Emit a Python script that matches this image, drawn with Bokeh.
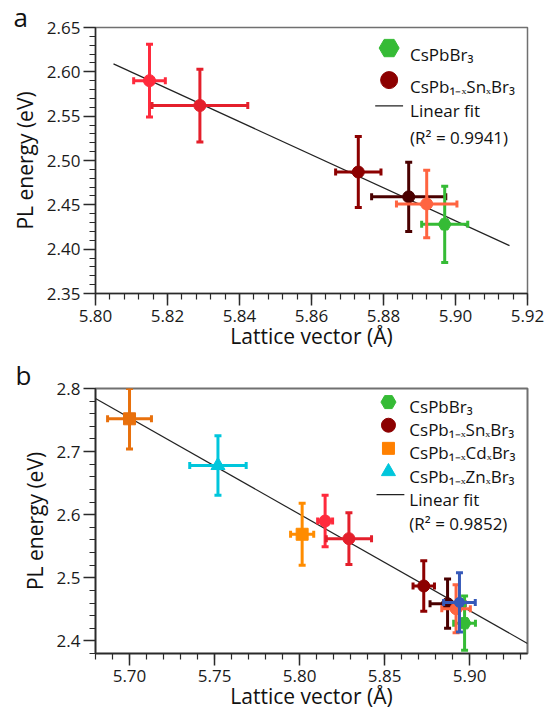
import numpy as np
from bokeh.plotting import figure
from bokeh.models import Range1d, FixedTicker, Label, ColumnDataSource, Title
from bokeh.layouts import column
from bokeh.embed import file_html
from bokeh.resources import INLINE

FONT = "Open Sans"

# ---------------- data ----------------
# Panel a: CsPbBr3 and CsPb(1-x)Sn(x)Br3
sn_lattice = [5.815, 5.829, 5.873, 5.887, 5.892]
sn_lattice_err = [0.0044, 0.0133, 0.0063, 0.0103, 0.0084]
sn_energy = [2.590, 2.562, 2.487, 2.459, 2.451]
sn_energy_err = [0.041, 0.041, 0.040, 0.039, 0.038]

pb_lattice = [5.897]
pb_lattice_err = [0.0064]
pb_energy = [2.428]
pb_energy_err = [0.043]

# Panel b additions
cd_lattice = [5.700, 5.8015]
cd_lattice_err = [0.0129, 0.0068]
cd_energy = [2.752, 2.569]
cd_energy_err = [0.048, 0.049]

zn_lattice = [5.752]
zn_lattice_err = [0.0166]
zn_energy = [2.678]
zn_energy_err = [0.047]

other_lattice = [5.894]
other_lattice_err = [0.0093]
other_energy = [2.461]
other_energy_err = [0.047]

# linear fits (end points)
fit_a_x = [5.805, 5.915]
fit_a_y = [2.609, 2.404]
fit_b_x = [5.680, 5.934]
fit_b_y = [2.784, 2.396]

# axes
a_xticks = [5.80, 5.82, 5.84, 5.86, 5.88, 5.90, 5.92]
a_xlabels = ["5.80", "5.82", "5.84", "5.86", "5.88", "5.90", "5.92"]
a_yticks = [2.35, 2.40, 2.45, 2.50, 2.55, 2.60, 2.65]
a_ylabels = ["2.35", "2.40", "2.45", "2.50", "2.55", "2.60", "2.65"]
b_xticks = [5.70, 5.75, 5.80, 5.85, 5.90]
b_xlabels = ["5.70", "5.75", "5.80", "5.85", "5.90"]
b_yticks = [2.4, 2.5, 2.6, 2.7, 2.8]
b_ylabels = ["2.4", "2.5", "2.6", "2.7", "2.8"]

legend_a = ["CsPbBr\u2083", "CsPb\u2081\u208b\u2093Sn\u2093Br\u2083", "Linear fit", "(R\u00b2 = 0.9941)"]
legend_b = ["CsPbBr\u2083", "CsPb\u2081\u208b\u2093Sn\u2093Br\u2083", "CsPb\u2081\u208b\u2093Cd\u2093Br\u2083",
            "CsPb\u2081\u208b\u2093Zn\u2093Br\u2083", "Linear fit", "(R\u00b2 = 0.9852)"]

# ---------------- styles ----------------
sn_colors = ["#ff2a3c", "#e41f2b", "#8c0000", "#4a0000", "#ff6440"]
pb_colors = ["#35bb35"]
cd_colors = ["#e8700c", "#ff8c00"]
zn_colors = ["#00c6dc"]
other_colors = ["#3559b9"]

AXIS = "#2a2a2a"


def make_fig(xr, yr, w, h, ml, mr, mt, mb, fw, fh):
    p = figure(width=w, height=h, x_range=Range1d(*xr), y_range=Range1d(*yr),
               output_backend="svg", toolbar_location=None,
               min_border_left=ml, min_border_right=mr, min_border_top=mt, min_border_bottom=mb)
    p.extra_x_ranges = {"px": Range1d(0, fw)}
    p.extra_y_ranges = {"py": Range1d(0, fh)}
    p.grid.visible = False
    p.background_fill_color = "white"
    p.border_fill_color = "white"
    p.outline_line_color = "#707070"
    p.outline_line_width = 1.5
    for ax in (p.xaxis[0], p.yaxis[0]):
        ax.axis_line_color = AXIS
        ax.axis_line_width = 1.5
        ax.major_tick_line_color = AXIS
        ax.major_tick_line_width = 1.5
        ax.minor_tick_line_color = AXIS
        ax.minor_tick_line_width = 1.2
        ax.major_tick_in = 0
        ax.major_tick_out = 12
        ax.minor_tick_in = 0
        ax.minor_tick_out = 6
        ax.major_label_text_font = FONT
        ax.major_label_text_font_size = "17px"
        ax.major_label_text_color = "#1a1a1a"
        ax.axis_label_text_font = FONT
        ax.axis_label_text_font_size = "21px"
        ax.axis_label_text_font_style = "normal"
        ax.axis_label_text_color = "#111111"
    p.xaxis.axis_label = "Lattice vector (\u00c5)"
    p.yaxis.axis_label = "PL energy (eV)"
    p.xaxis.major_label_standoff = 4
    p.yaxis.major_label_standoff = 3
    p.xaxis.axis_label_standoff = -3
    p.yaxis.axis_label_standoff = 5
    return p


def set_ticks(axis, ticks, labels, minor):
    axis.ticker = FixedTicker(ticks=ticks, minor_ticks=minor)
    axis.major_label_overrides = {t: l for t, l in zip(ticks, labels)}


def draw_points(p, x, xe, y, ye, colors, marker, size):
    x = np.array(x); xe = np.array(xe); y = np.array(y); ye = np.array(ye)
    src = ColumnDataSource(dict(x=x, y=y, xl=x - xe, xu=x + xe, yl=y - ye, yu=y + ye, c=colors))
    p.segment(x0="xl", y0="y", x1="xu", y1="y", line_color="c", line_width=3, source=src)
    p.segment(x0="x", y0="yl", x1="x", y1="yu", line_color="c", line_width=3, source=src)
    p.scatter(x="x", y="yl", marker="dash", size=7, line_width=3, line_color="c", source=src)
    p.scatter(x="x", y="yu", marker="dash", size=7, line_width=3, line_color="c", source=src)
    p.scatter(x="xl", y="y", marker="dash", angle=np.pi / 2, size=7, line_width=3, line_color="c", source=src)
    p.scatter(x="xu", y="y", marker="dash", angle=np.pi / 2, size=7, line_width=3, line_color="c", source=src)
    p.scatter(x="x", y="y", marker=marker, size=size, fill_color="c", line_color="c", line_width=1, source=src)


def legend_text(p, x, y, text):
    p.add_layout(Label(x=x, y=y, x_range_name="px", y_range_name="py", text=text,
                       text_font=FONT, text_font_size="17px", text_color="#111111",
                       text_baseline="alphabetic", text_align="left"))


def panel_letter(p, text, offset, standoff):
    p.add_layout(Title(text=text, align="left", offset=offset, standoff=standoff, vertical_align="bottom",
                       text_font=FONT, text_font_size="26px", text_font_style="normal",
                       text_color="#111111"), "above")


# ---------------- panel a ----------------
FW_A, FH_A = 434, 268
pa = make_fig((5.80, 5.92), (2.35, 2.65), 547, 352, 95, 18, 27, 57, FW_A, FH_A)
set_ticks(pa.xaxis[0], a_xticks, a_xlabels, list(np.round(np.arange(5.80, 5.9201, 0.004), 4)))
set_ticks(pa.yaxis[0], a_yticks, a_ylabels, list(np.round(np.arange(2.35, 2.6501, 0.01), 3)))

pa.line(fit_a_x, fit_a_y, line_color="#222222", line_width=1.2)
draw_points(pa, sn_lattice[:2], sn_lattice_err[:2], sn_energy[:2], sn_energy_err[:2], sn_colors[:2], "circle", 12)
draw_points(pa, sn_lattice[2:4], sn_lattice_err[2:4], sn_energy[2:4], sn_energy_err[2:4], sn_colors[2:4], "circle", 12)
draw_points(pa, pb_lattice, pb_lattice_err, pb_energy, pb_energy_err, pb_colors, "hex", 13)
draw_points(pa, sn_lattice[4:], sn_lattice_err[4:], sn_energy[4:], sn_energy_err[4:], sn_colors[4:], "circle", 12)

# legend a (frame pixel coordinates)
pa.scatter([295], [247.3], x_range_name="px", y_range_name="py", marker="hex", size=20,
           fill_color="#35bb35", line_color="#35bb35")
pa.scatter([295], [215], x_range_name="px", y_range_name="py", marker="circle", size=17,
           fill_color="#8c0000", line_color="#8c0000")
pa.line([281, 309], [189, 189], x_range_name="px", y_range_name="py", line_color="#222222", line_width=1.2)
for txt, yy in zip(legend_a, [240.7, 209, 184, 157.3]):
    legend_text(pa, 316, yy, txt)
panel_letter(pa, "a", -82, -15)

# ---------------- panel b ----------------
FW_B, FH_B = 435, 267
pb = make_fig((5.68, 5.934), (2.38, 2.80), 547, 360, 92, 20, 36, 57, FW_B, FH_B)
pb.outline_line_width = 2
set_ticks(pb.xaxis[0], b_xticks, b_xlabels, list(np.round(np.arange(5.68, 5.9341, 0.01), 3)))
set_ticks(pb.yaxis[0], b_yticks, b_ylabels, list(np.round(np.arange(2.38, 2.8001, 0.02), 3)))

pb.line(fit_b_x, fit_b_y, line_color="#222222", line_width=1.2)
draw_points(pb, cd_lattice, cd_lattice_err, cd_energy, cd_energy_err, cd_colors, "square", 12)
draw_points(pb, zn_lattice, zn_lattice_err, zn_energy, zn_energy_err, zn_colors, "triangle", 14)
draw_points(pb, sn_lattice[:2], sn_lattice_err[:2], sn_energy[:2], sn_energy_err[:2], sn_colors[:2], "circle", 12)
draw_points(pb, sn_lattice[2:4], sn_lattice_err[2:4], sn_energy[2:4], sn_energy_err[2:4], sn_colors[2:4], "circle", 12)
draw_points(pb, pb_lattice, pb_lattice_err, pb_energy, pb_energy_err, pb_colors, "hex", 13)
draw_points(pb, sn_lattice[4:], sn_lattice_err[4:], sn_energy[4:], sn_energy_err[4:], sn_colors[4:], "circle", 12)
draw_points(pb, other_lattice, other_lattice_err, other_energy, other_energy_err, other_colors, "circle", 10)

# legend b
leg_marker_y = [253.3, 230, 206.7, 183.3]
pb.scatter([295], [leg_marker_y[0]], x_range_name="px", y_range_name="py", marker="hex", size=15,
           fill_color="#35bb35", line_color="#35bb35")
pb.scatter([295], [leg_marker_y[1]], x_range_name="px", y_range_name="py", marker="circle", size=14,
           fill_color="#8c0000", line_color="#8c0000")
pb.scatter([295], [leg_marker_y[2]], x_range_name="px", y_range_name="py", marker="square", size=12,
           fill_color="#ff8000", line_color="#ff8000")
pb.scatter([295], [leg_marker_y[3]], x_range_name="px", y_range_name="py", marker="triangle", size=14,
           fill_color="#00c6dc", line_color="#00c6dc")
pb.line([283, 311], [160, 160], x_range_name="px", y_range_name="py", line_color="#222222", line_width=1.2)
for txt, yy in zip(legend_b, [249, 225.5, 202.2, 178.8, 155.5, 131]):
    legend_text(pb, 316, yy, txt)
panel_letter(pb, "b", -80, -9)

layout = column(pa, pb)
open("out.html", "w").write(file_html(layout, INLINE))
